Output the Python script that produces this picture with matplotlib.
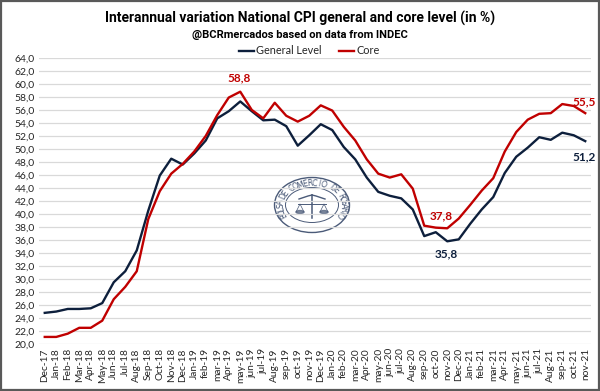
import numpy as np
import matplotlib
matplotlib.use("Agg")
import matplotlib.pyplot as plt
from matplotlib import font_manager
from matplotlib.patches import Ellipse, Rectangle

months = ["Dec-17", "Jan-18", "Feb-18", "Mar-18", "Apr-18", "May-18", "Jun-18", "Jul-18",
          "Aug-18", "Sep-18", "Oct-18", "Nov-18", "Dec-18", "Jan-19", "feb-19", "mar-19",
          "Apr-19", "may-19", "jun-19", "jul-19", "Aug-19", "sep-19", "oct-19", "nov-19",
          "Dec-19", "Jan-20", "feb-20", "mar-20", "Apr-20", "may-20", "jun-20", "jul-20",
          "Aug-20", "sep-20", "oct-20", "nov-20", "Dec-20", "Jan-21", "feb-21", "mar-21",
          "Apr-21", "may-21", "jun-21", "jul-21", "Aug-21", "sep-21", "oct-21", "nov-21"]

general = [24.8, 25.0, 25.4, 25.4, 25.5, 26.3, 29.5, 31.2, 34.4, 40.5, 45.9, 48.5,
           47.6, 49.3, 51.3, 54.7, 55.8, 57.3, 55.8, 54.4, 54.5, 53.5, 50.5, 52.1,
           53.8, 52.9, 50.3, 48.4, 45.6, 43.4, 42.8, 42.4, 40.7, 36.6, 37.2, 35.8,
           36.1, 38.5, 40.7, 42.6, 46.3, 48.8, 50.2, 51.8, 51.4, 52.5, 52.1, 51.2]

core = [21.1, 21.1, 21.6, 22.5, 22.5, 23.6, 26.9, 28.8, 31.2, 39.2, 43.5, 46.2,
        47.7, 49.6, 52.0, 55.2, 57.9, 58.8, 56.0, 54.7, 57.1, 55.1, 54.2, 55.1,
        56.7, 55.9, 53.4, 51.3, 48.4, 46.2, 45.6, 46.1, 43.9, 38.2, 37.9, 37.8,
        39.3, 41.4, 43.6, 45.5, 49.6, 52.6, 54.5, 55.4, 55.5, 56.9, 56.6, 55.5]

yticks = np.arange(20, 64.1, 2)

NAVY = "#0d1f3c"
RED = "#c00000"
TXT = "#262626"

avail = {f.name for f in font_manager.fontManager.ttflist}
title_family = "Roboto" if "Roboto" in avail else "DejaVu Sans"
body_family = "Lato" if "Lato" in avail else "DejaVu Sans"
plt.rcParams["font.family"] = [body_family, "DejaVu Sans"]

fig = plt.figure(figsize=(6.0, 3.91), dpi=100)

# overlay (pixel coordinates) for border and watermark
ov = fig.add_axes([0, 0, 1, 1], zorder=0)
ov.set_xlim(0, 600)
ov.set_ylim(391, 0)
ov.axis("off")
ov.add_patch(Rectangle((1, 1), 598, 389, fill=False, edgecolor="#595959", lw=1.6))

# watermark seal
cx, cy, w, h = 312, 205, 75, 55
seal_col = "#4a5a78"
ov.add_patch(Ellipse((cx, cy), w, h, fill=False, edgecolor=seal_col, lw=1.0))
ov.add_patch(Ellipse((cx, cy), w - 22, h - 20, fill=False, edgecolor=seal_col, lw=0.7))
ring = "BOLSA DE COMERCIO DE ROSARIO"
angs = np.linspace(208, -28, len(ring))
for ch, a in zip(ring, angs):
    r = np.deg2rad(a)
    px = cx + (w / 2 - 6) * np.cos(r)
    py = cy - (h / 2 - 6) * np.sin(r)
    ov.text(px, py, ch, fontsize=5.6, color=seal_col, ha="center", va="center",
            rotation=a - 90, family="DejaVu Sans")
# simple emblem: scales and caduceus
ov.plot([cx - 14, cx + 14], [cy - 1, cy - 1], color=seal_col, lw=0.7)
ov.plot([cx, cx], [cy - 10, cy + 13], color=seal_col, lw=1.1)
ov.add_patch(Ellipse((cx - 12, cy + 7), 8, 3, color=seal_col, alpha=0.7))
ov.add_patch(Ellipse((cx + 12, cy + 7), 8, 3, color=seal_col, alpha=0.7))
ov.plot([cx - 16, cx - 12, cx - 8], [cy + 7, cy - 1, cy + 7], color=seal_col, lw=0.5)
ov.plot([cx + 8, cx + 12, cx + 16], [cy + 7, cy - 1, cy + 7], color=seal_col, lw=0.5)
ov.plot([cx - 13, cx - 4, cx], [cy - 6, cy - 9, cy - 10], color=seal_col, lw=1.0)
ov.plot([cx + 13, cx + 4, cx], [cy - 6, cy - 9, cy - 10], color=seal_col, lw=1.0)

# main axes
ax = fig.add_axes([0.065, 0.120, 0.920, 0.732], zorder=1)
ax.patch.set_alpha(0)
x = np.arange(len(months))
ax.plot(x, general, color=NAVY, lw=1.7, label="General Level", zorder=3)
ax.plot(x, core, color=RED, lw=1.7, label="Core", zorder=3)

ax.set_xlim(-0.5, len(months) - 0.5)
ax.set_ylim(20, 64)
ax.set_yticks(yticks)
ax.set_yticklabels([f"{v:.1f}".replace(".", ",") for v in yticks], fontsize=7.5, color=TXT)
ax.set_xticks(x)
ax.set_xticklabels(months, rotation=90, fontsize=7.3, color=TXT)
ax.tick_params(length=0, pad=3)
ax.grid(axis="y", color="#d9d9d9", lw=0.9)
ax.set_axisbelow(True)
for s in ax.spines.values():
    s.set_visible(False)

# data labels
def lab(i, series, txt, color, dx, dy):
    ax.annotate(txt, (x[i], series[i]), xytext=(dx, dy), textcoords="offset points",
                ha="center", va="center", fontsize=8.5, color=color, fontweight="bold")

lab(17, core, "58,8", RED, -1, 10)
lab(35, core, "37,8", RED, -4, 9)
lab(35, general, "35,8", NAVY, -1, -9)
lab(47, core, "55,5", RED, -1, 8)
lab(47, general, "51,2", NAVY, -1, -11)

fig.text(0.5, 1 - 18 / 391, "Interannual variation National CPI general and core level (in %)",
         ha="center", va="center", fontsize=10, fontweight="bold", color="#000000",
         family=title_family)
fig.text(0.5, 1 - 35 / 391, "@BCRmercados based on data from INDEC",
         ha="center", va="center", fontsize=8, fontweight="bold", color="#000000",
         family=title_family)

fig.legend(loc="center", bbox_to_anchor=(0.515, 1 - 51 / 391), ncol=2, frameon=False,
           fontsize=7.8, handlelength=1.4, handletextpad=0.2, columnspacing=1.6,
           labelcolor=TXT)

fig.savefig("out.png", dpi=100)
